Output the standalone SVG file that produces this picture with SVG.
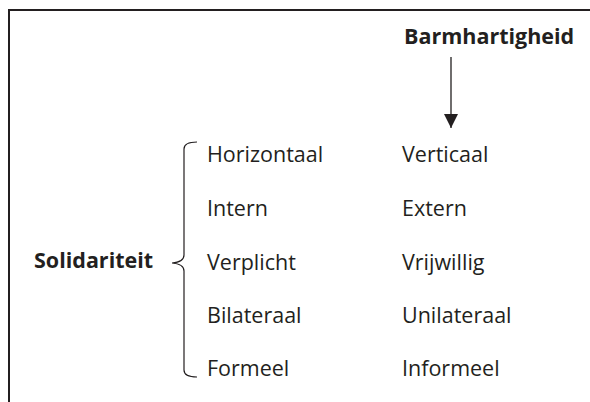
<svg xmlns="http://www.w3.org/2000/svg" width="590" height="402" viewBox="0 0 590 402">
<style>
text{font-family:"Open Sans","Noto Sans",sans-serif;fill:#231f20;font-size:21.5px}
.b{font-weight:bold;font-size:21.5px}
.ln{stroke:#231f20;fill:none}
</style>
<defs>
<marker id="ah" markerWidth="16" markerHeight="14" refX="14" refY="7" orient="auto" markerUnits="userSpaceOnUse">
<path d="M0,0 L14,7 L0,14 Z" fill="#231f20"/>
</marker>
</defs>
<rect width="590" height="402" fill="#fff"/>
<path class="ln" stroke-width="2" d="M9,402 L9,10 L590,10"/>
<g id="barmhartigheid"><text class="b" x="404" y="44">Barmhartigheid</text></g>
<g id="solidariteit"><text class="b" x="34" y="268">Solidariteit</text></g>
<g id="left-col">
<text x="207" y="162">Horizontaal</text>
<text x="207" y="216">Intern</text>
<text x="207" y="270">Verplicht</text>
<text x="207" y="323">Bilateraal</text>
<text x="207" y="376">Formeel</text>
</g>
<g id="right-col">
<text x="402" y="162">Verticaal</text>
<text x="402" y="216">Extern</text>
<text x="402" y="270">Vrijwillig</text>
<text x="402" y="323">Unilateraal</text>
<text x="402" y="376">Informeel</text>
</g>
<g id="connectors">
<path class="ln" stroke-width="1.2" d="M197,142 Q184,142 184,149 L184,255 Q184,262 172,263 Q184,264 184,271 L184,370 Q184,377 197,377"/>
<line class="ln" stroke-width="1.3" x1="451" y1="57" x2="451" y2="128" marker-end="url(#ah)"/>
</g>
</svg>
